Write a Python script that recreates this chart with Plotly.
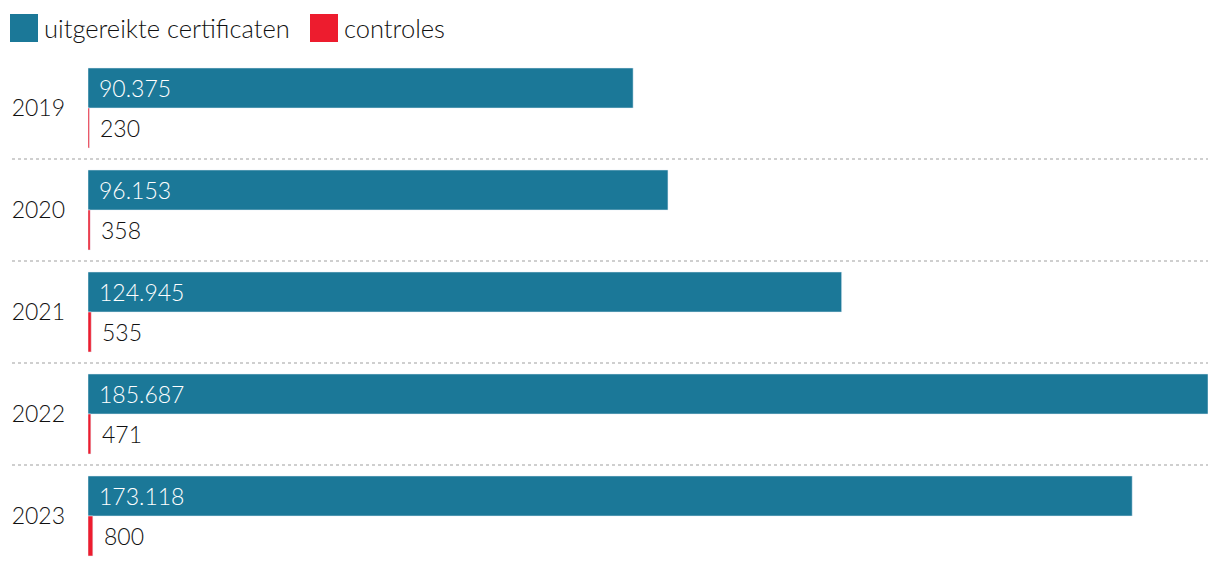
import plotly.graph_objects as go

years = ["2019", "2020", "2021", "2022", "2023"]
certificaten = [90375, 96153, 124945, 185687, 173118]
controles = [230, 358, 535, 471, 800]
series_names = ["uitgereikte certificaten", "controles"]

BLUE = "#1b7898"
RED = "#ed1c2e"
TEXT = "#111111"
FONT = "Lato"
FS = 23
FW = 300

def fmt(v):
    return f"{v:,}".replace(",", ".")

fig = go.Figure()
fig.add_trace(go.Bar(y=years, x=certificaten, orientation="h", marker_color=BLUE,
                     name=series_names[0], showlegend=False, hoverinfo="x+y"))
fig.add_trace(go.Bar(y=years, x=controles, orientation="h", marker_color=RED,
                     name=series_names[1], showlegend=False, hoverinfo="x+y"))

annotations = []
for i, v in enumerate(certificaten):
    annotations.append(dict(x=0, y=i, xref="x", yref="y", text=fmt(v), showarrow=False,
                            xanchor="left", yanchor="middle", xshift=9, yshift=20,
                            font=dict(family=FONT, size=FS, color="white", weight=FW)))
for i, v in enumerate(controles):
    annotations.append(dict(x=v, y=i, xref="x", yref="y", text=fmt(v), showarrow=False,
                            xanchor="left", yanchor="middle", xshift=9, yshift=-20,
                            font=dict(family=FONT, size=FS, color=TEXT, weight=FW)))

W, H = 1220, 568
L, R, T, B = 88, 12, 57, 1
pw = W - L - R
ph = H - T - B

def px_to_paper_x(px):
    return (px - L) / pw

def py_to_paper_y(py):
    return (H - B - py) / ph

fig.update_layout(
    width=W, height=H,
    margin=dict(l=L, r=R, t=T, b=B),
    plot_bgcolor="white", paper_bgcolor="white",
    barmode="group", bargap=0.2157, bargroupgap=0,
    xaxis=dict(range=[0, max(certificaten)], visible=False, fixedrange=True),
    yaxis=dict(type="category", range=[len(years) - 0.5, -0.5], showgrid=False, zeroline=False,
               showline=False, ticks="", ticklabelstandoff=22,
               tickfont=dict(family=FONT, size=FS, color=TEXT, weight=FW), fixedrange=True),
    showlegend=False,
    font=dict(family=FONT, size=FS, color=TEXT),
)

# dotted separators between year groups
for i in range(len(years) - 1):
    fig.add_shape(type="line", xref="paper", yref="y",
                  x0=px_to_paper_x(12), x1=px_to_paper_x(1208),
                  y0=i + 0.5, y1=i + 0.5,
                  line=dict(color="#cfcfcf", width=2, dash="dot"))

# legend drawn with shapes + annotations
legend_items = [(series_names[0], BLUE, 10), (series_names[1], RED, 310)]
for name, col, x0 in legend_items:
    fig.add_shape(type="rect", xref="paper", yref="paper",
                  x0=px_to_paper_x(x0), x1=px_to_paper_x(x0 + 28),
                  y0=py_to_paper_y(42), y1=py_to_paper_y(14),
                  line_width=0, fillcolor=col)
    annotations.append(dict(x=px_to_paper_x(x0 + 32), y=py_to_paper_y(28), xref="paper", yref="paper",
                            text=name, showarrow=False, xanchor="left", yanchor="middle",
                            font=dict(family=FONT, size=25.5, color=TEXT, weight=FW)))

fig.update_layout(annotations=annotations)
fig.write_html("out.html", config={"displayModeBar": False})
